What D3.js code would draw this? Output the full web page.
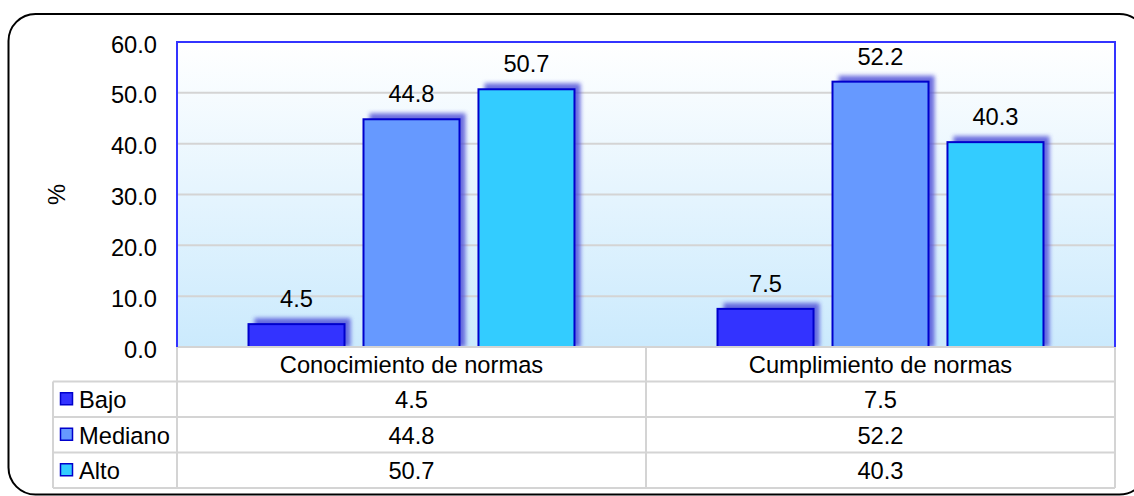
<!DOCTYPE html>
<html>
<head>
<meta charset="utf-8">
<script src="https://cdn.jsdelivr.net/npm/d3@7"></script>
<style>
  html, body { margin: 0; padding: 0; background: #ffffff; }
  svg { display: block; font-family: "Liberation Sans", Arial, sans-serif; }
</style>
</head>
<body>
<svg id="chart" width="1134" height="496"></svg>
<script>
// ---- data ----
const categories = ["Conocimiento de normas", "Cumplimiento de normas"];
const seriesNames = ["Bajo", "Mediano", "Alto"];
const bajo = [4.5, 7.5];
const mediano = [44.8, 52.2];
const alto = [50.7, 40.3];
const yTicks = [0, 10, 20, 30, 40, 50, 60];
const yLabel = "%";

const seriesValues = [bajo, mediano, alto];
const colors = ["#3333ff", "#6699ff", "#33ccff"];

// ---- layout ----
const W = 1134, H = 496;
const plot = { left: 177, right: 1115, top: 42, bottom: 347 };
const tableLeft = 53;
const headerH = 34.5, rowH = 35.5;
const fs = 23.7;

const svg = d3.select("#chart");
const defs = svg.append("defs");

// background gradient
const grad = defs.append("linearGradient").attr("id", "bg").attr("x1", 0).attr("y1", 0).attr("x2", 0).attr("y2", 1);
grad.append("stop").attr("offset", "0%").attr("stop-color", "#ffffff");
grad.append("stop").attr("offset", "100%").attr("stop-color", "#cbeafd");

// shadow blur
const f = defs.append("filter").attr("id", "blur").attr("x", "-20%").attr("y", "-20%").attr("width", "140%").attr("height", "140%");
f.append("feGaussianBlur").attr("stdDeviation", 2);

defs.append("clipPath").attr("id", "plotclip").append("rect")
  .attr("x", plot.left).attr("y", plot.top)
  .attr("width", plot.right - plot.left).attr("height", plot.bottom - plot.top);

// outer rounded border
svg.append("rect")
  .attr("x", 8.5).attr("y", 14).attr("width", 1138).attr("height", 480.5)
  .attr("rx", 27).attr("ry", 27)
  .attr("fill", "#ffffff").attr("stroke", "#000000").attr("stroke-width", 2);

// scales
const y = d3.scaleLinear().domain([0, 60]).range([plot.bottom, plot.top]);
const x0 = d3.scaleBand().domain(categories).range([plot.left, plot.right]).paddingInner(0).paddingOuter(0);
const x1 = d3.scaleBand().domain(seriesNames).range([0, x0.bandwidth()]).paddingInner(0.165).paddingOuter(0.622);

// plot background
svg.append("rect")
  .attr("x", plot.left).attr("y", plot.top)
  .attr("width", plot.right - plot.left).attr("height", plot.bottom - plot.top)
  .attr("fill", "url(#bg)");

// gridlines
svg.append("g").selectAll("line").data(yTicks.filter(d => d > 0 && d < 60)).join("line")
  .attr("x1", plot.left).attr("x2", plot.right)
  .attr("y1", d => y(d)).attr("y2", d => y(d))
  .attr("stroke", "#d4d4d4").attr("stroke-width", 2);

// y axis labels
const yAxis = d3.axisLeft(y).tickValues(yTicks).tickFormat(d3.format(".1f")).tickSize(0).tickPadding(0);
const ya = svg.append("g").attr("transform", `translate(157,0)`).call(yAxis);
ya.select(".domain").remove();
ya.selectAll("text").attr("font-size", fs).attr("font-family", "Liberation Sans, Arial, sans-serif")
  .attr("fill", "#000").attr("dy", null).attr("dominant-baseline", null)
  .attr("y", 10);

// y label
svg.append("text")
  .attr("transform", `translate(65,${(plot.top + plot.bottom) / 2}) rotate(-90)`)
  .attr("text-anchor", "middle").attr("font-size", fs).attr("fill", "#000")
  .text(yLabel);

// bars
const rows = [];
categories.forEach((c, ci) => {
  seriesNames.forEach((s, si) => {
    rows.push({ cat: c, ser: s, si: si, v: seriesValues[si][ci] });
  });
});

const gBars = svg.append("g").attr("clip-path", "url(#plotclip)");
// shadows
gBars.selectAll("rect.shadow").data(rows).join("rect").attr("class", "shadow")
  .attr("x", d => x0(d.cat) + x1(d.ser) + 6)
  .attr("y", d => y(d.v) - 6)
  .attr("width", x1.bandwidth())
  .attr("height", d => plot.bottom - y(d.v) + 6)
  .attr("fill", "#4a4ad6").attr("opacity", 0.8)
  .attr("filter", "url(#blur)");
// bars
gBars.selectAll("rect.bar").data(rows).join("rect").attr("class", "bar")
  .attr("x", d => x0(d.cat) + x1(d.ser))
  .attr("y", d => y(d.v))
  .attr("width", x1.bandwidth())
  .attr("height", d => plot.bottom - y(d.v) + 2)
  .attr("fill", d => colors[d.si])
  .attr("stroke", "#0000cc").attr("stroke-width", 2);

// value labels
svg.append("g").selectAll("text").data(rows).join("text")
  .attr("x", d => x0(d.cat) + x1(d.ser) + x1.bandwidth() / 2)
  .attr("y", d => y(d.v) - 17)
  .attr("text-anchor", "middle").attr("font-size", fs).attr("fill", "#000")
  .text(d => d3.format(".1f")(d.v));

// plot border (left, top, right)
svg.append("path")
  .attr("d", `M${plot.left},${plot.bottom} V${plot.top} H${plot.right} V${plot.bottom}`)
  .attr("fill", "none").attr("stroke", "#3333ff").attr("stroke-width", 2);

// ---- data table ----
const tTop = plot.bottom;
const rowTops = [tTop + headerH, tTop + headerH + rowH, tTop + headerH + 2 * rowH];
const tBottom = tTop + headerH + 3 * rowH;
const gT = svg.append("g");
const lineColor = "#d4d4d4";
gT.append("line").attr("x1", plot.left).attr("x2", plot.right).attr("y1", tTop).attr("y2", tTop)
  .attr("stroke", lineColor).attr("stroke-width", 2);
[...rowTops, tBottom].forEach(yy => {
  gT.append("line").attr("x1", tableLeft).attr("x2", plot.right).attr("y1", yy).attr("y2", yy)
    .attr("stroke", lineColor).attr("stroke-width", 2);
});
gT.append("line").attr("x1", tableLeft).attr("x2", tableLeft).attr("y1", rowTops[0]).attr("y2", tBottom)
  .attr("stroke", lineColor).attr("stroke-width", 2);
[plot.left, x0(categories[1]), plot.right].forEach(xx => {
  gT.append("line").attr("x1", xx).attr("x2", xx).attr("y1", tTop).attr("y2", tBottom)
    .attr("stroke", lineColor).attr("stroke-width", 2);
});
svg.append("line").attr("x1", plot.left).attr("x2", plot.left).attr("y1", plot.top).attr("y2", plot.bottom)
  .attr("stroke", "#3333ff").attr("stroke-width", 2);
svg.append("line").attr("x1", plot.right).attr("x2", plot.right).attr("y1", plot.top).attr("y2", plot.bottom)
  .attr("stroke", "#3333ff").attr("stroke-width", 2);

// header
gT.selectAll("text.hdr").data(categories).join("text").attr("class", "hdr")
  .attr("x", d => x0(d) + x0.bandwidth() / 2)
  .attr("y", tTop + headerH / 2 + 9)
  .attr("text-anchor", "middle").attr("font-size", fs).attr("fill", "#000")
  .text(d => d);

// rows
seriesNames.forEach((s, si) => {
  const cy = rowTops[si] + rowH / 2;
  gT.append("rect").attr("x", 60.5).attr("y", cy - 6.5).attr("width", 12).attr("height", 12)
    .attr("fill", colors[si]).attr("stroke", "#0000cc").attr("stroke-width", 1.5);
  gT.append("text").attr("x", 79).attr("y", cy + 9).attr("font-size", fs).attr("fill", "#000").text(s);
  categories.forEach((c, ci) => {
    gT.append("text").attr("x", x0(c) + x0.bandwidth() / 2).attr("y", cy + 9)
      .attr("text-anchor", "middle").attr("font-size", fs).attr("fill", "#000")
      .text(d3.format(".1f")(seriesValues[si][ci]));
  });
});
</script>
</body>
</html>
